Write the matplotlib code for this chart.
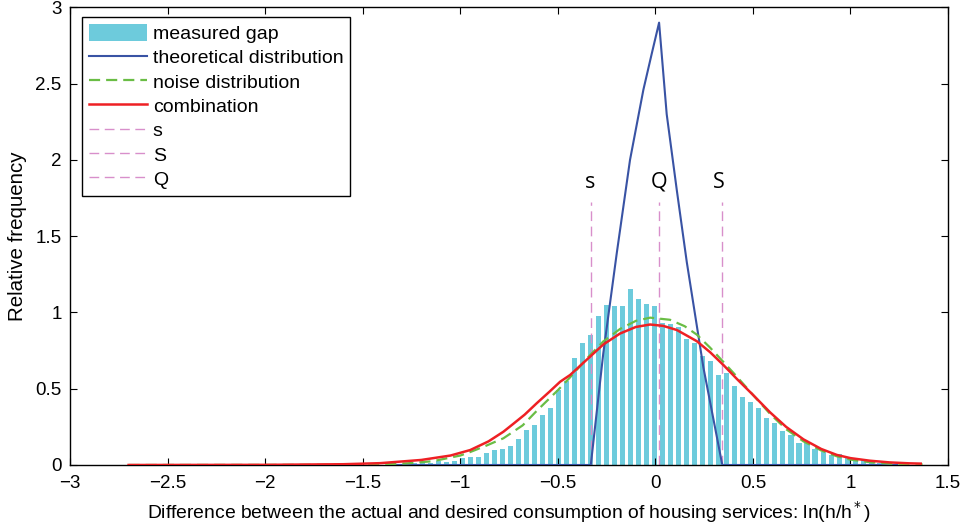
import numpy as np
import matplotlib
matplotlib.use("Agg")
from matplotlib import pyplot as plt

plt.rcParams['font.family'] = ['Liberation Sans', 'DejaVu Sans']

# histogram of the measured gap ln(h/h*)
bin_left = -1.319
bin_step = 0.0411
gap_freq = [0.005, 0.008, 0.010, 0.018, 0.015, 0.026, 0.020, 0.026, 0.048, 0.053,
            0.050, 0.081, 0.098, 0.105, 0.125, 0.171, 0.230, 0.263, 0.328, 0.372,
            0.49, 0.55, 0.70, 0.80, 0.85, 0.978, 1.047, 1.04, 1.045, 1.152,
            1.086, 1.056, 1.045, 0.929, 0.925, 0.903, 0.824, 0.802, 0.717, 0.684,
            0.59, 0.605, 0.518, 0.444, 0.41, 0.374, 0.31, 0.274, 0.225, 0.197,
            0.146, 0.146, 0.107, 0.087, 0.064, 0.072, 0.046, 0.041, 0.037, 0.022,
            0.015, 0.010, 0.008]
gap_centers = bin_left + bin_step * np.arange(len(gap_freq))

# theoretical (s,S) distribution
theo_x = [-1.33, -0.331, -0.267, -0.198, -0.13, -0.0615, -0.018, 0.019,
          0.058, 0.11, 0.161, 0.246, 0.343, 1.24]
theo_y = [0.0, 0.0, 0.732, 1.388, 2.0, 2.46, 2.70, 2.90,
          2.30, 1.80, 1.33, 0.64, 0.0, 0.0]

# noise distribution
noise_x = [-2.7, -1.6, -1.4, -1.27, -1.14, -1.0, -0.949, -0.87, -0.779, -0.68, -0.608,
           -0.5, -0.437, -0.35, -0.267, -0.181, -0.10, -0.027, 0.075, 0.15, 0.212,
           0.28, 0.349, 0.417, 0.5, 0.588, 0.67, 0.759, 0.85, 0.93, 1.0, 1.1, 1.2, 1.37]
noise_y = [0.0, 0.001, 0.004, 0.011, 0.025, 0.062, 0.085, 0.125, 0.175, 0.26, 0.355,
           0.49, 0.575, 0.70, 0.81, 0.892, 0.945, 0.966, 0.952, 0.91, 0.855,
           0.77, 0.675, 0.58, 0.46, 0.335, 0.235, 0.155, 0.095, 0.057, 0.035, 0.018, 0.009, 0.003]

# combination of both
comb_x = [-2.7, -2.0, -1.6, -1.41, -1.2, -1.05, -0.949, -0.855, -0.779, -0.73, -0.67,
          -0.608, -0.545, -0.488, -0.437, -0.335, -0.267, -0.181, -0.10, -0.027, 0.04,
          0.11, 0.212, 0.28, 0.349, 0.417, 0.5, 0.588, 0.67, 0.759, 0.85, 0.93, 1.0,
          1.1, 1.2, 1.3, 1.36]
comb_y = [0.0, 0.001, 0.005, 0.012, 0.033, 0.062, 0.098, 0.155, 0.218, 0.268, 0.33,
          0.405, 0.478, 0.546, 0.59, 0.71, 0.79, 0.862, 0.905, 0.921, 0.912,
          0.885, 0.812, 0.74, 0.655, 0.565, 0.46, 0.345, 0.25, 0.168, 0.105, 0.066, 0.045,
          0.028, 0.017, 0.011, 0.009]

# thresholds
thr_names = ['s', 'S', 'Q']
thr_x = [-0.331, 0.343, 0.018]
thr_top = 1.727
thr_label_x = [-0.335, 0.325, 0.017]
thr_label_y = 1.818

xticks = [-3, -2.5, -2, -1.5, -1, -0.5, 0, 0.5, 1, 1.5]
yticks = [0, 0.5, 1, 1.5, 2, 2.5, 3]

fig = plt.figure(figsize=(9.62, 5.29), dpi=100)
ax = fig.add_axes([0.0728, 0.121, 0.9127, 0.865])

bars = ax.bar(gap_centers, gap_freq, width=0.026, color='#6dcbdc', label='measured gap', zorder=1)
ax.plot(theo_x, theo_y, color='#3953a4', lw=1.5, label='theoretical distribution', zorder=3)
ax.plot(noise_x, noise_y, color='#6abd45', lw=1.6, dashes=(5, 2.7), label='noise distribution', zorder=4)
ax.plot(comb_x, comb_y, color='#ee2024', lw=1.8, label='combination', zorder=5)

pink = '#d88fcb'
for name, xv, lx in zip(thr_names, thr_x, thr_label_x):
    ax.plot([xv, xv], [0, thr_top], color=pink, lw=1.0, dashes=(7, 4), label=name, zorder=2)
    ax.text(lx, thr_label_y, name, ha='center', va='baseline', fontsize=15.5,
            family=['Open Sans', 'DejaVu Sans'])

ax.set_xlim(-3, 1.5)
ax.set_ylim(0, 3)
ax.set_xticks(xticks)
ax.set_xticklabels(['\u22123', '\u22122.5', '\u22122', '\u22121.5', '\u22121', '\u22120.5', '0', '0.5', '1', '1.5'])
ax.set_yticks(yticks)
ax.set_yticklabels(['0', '0.5', '1', '1.5', '2', '2.5', '3'])
ax.tick_params(direction='in', top=True, right=True, length=5, labelsize=13.5, width=0.8)
ax.tick_params(axis='x', pad=7)
ax.tick_params(axis='y', pad=6)
for sp in ax.spines.values():
    sp.set_linewidth(1.0)

ax.set_xlabel('Difference between the actual and desired consumption of housing services: ln(h/h$^*$)',
              fontsize=13.9, labelpad=5)
ax.set_ylabel('Relative frequency', fontsize=14.8, labelpad=6)

handles, labels = ax.get_legend_handles_labels()
order = [labels.index(l) for l in ['measured gap', 'theoretical distribution', 'noise distribution',
                                   'combination', 's', 'S', 'Q']]
leg = ax.legend([handles[i] for i in order], [labels[i] for i in order],
                loc='upper left', bbox_to_anchor=(0.0133, 0.9786), borderaxespad=0,
                handlelength=3.0, handleheight=0.95, labelspacing=0.27,
                fancybox=False, framealpha=1, edgecolor='black', borderpad=0.35,
                handletextpad=0.3, prop={'size': 14})
leg.get_frame().set_linewidth(1.0)

fig.savefig('out.png', dpi=100)
